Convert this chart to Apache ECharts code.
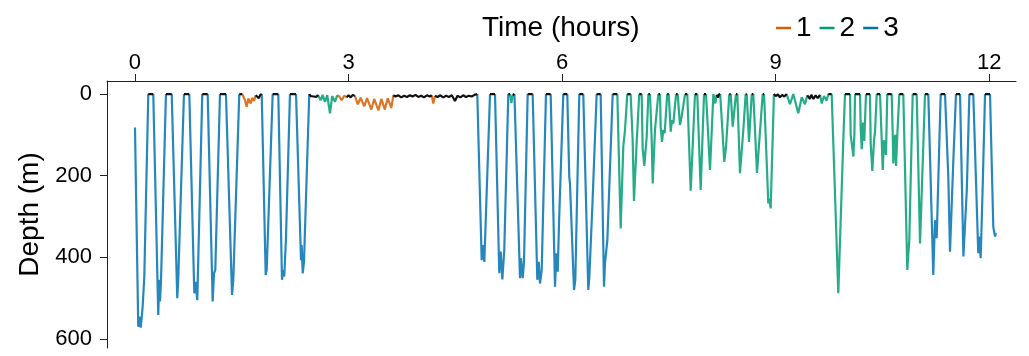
<!DOCTYPE html>
<html>
<head>
<meta charset="utf-8">
<script src="https://cdn.jsdelivr.net/npm/echarts@6.0.0/dist/echarts.min.js"></script>
<style>
  html, body { margin: 0; padding: 0; background: #fff; }
  #chart { width: 1029px; height: 356px; }
</style>
</head>
<body>
<div id="chart"></div>
<script>
// dive track: time (hours), depth (m), behavioural state (0 = unassigned / surface)
const hours = [
  0.000, 0.046, 0.063, 0.080, 0.094, 0.108, 0.131, 0.187, 0.257,
  0.327, 0.341, 0.351, 0.365, 0.435, 0.516,
  0.594, 0.608, 0.632, 0.688, 0.763,
  0.833, 0.852, 0.875, 0.945, 1.021,
  1.091, 1.110, 1.128, 1.194, 1.278,
  1.363, 1.381, 1.465, 1.507,
  1.545, 1.569, 1.592, 1.625, 1.648, 1.672, 1.695, 1.720, 1.740, 1.760, 1.780,
  1.836, 1.850, 1.934, 2.013,
  2.065, 2.083, 2.097, 2.121, 2.177, 2.262,
  2.332, 2.341, 2.356, 2.374, 2.448,
  2.470, 2.490, 2.510, 2.530, 2.550, 2.570,
  2.608, 2.635, 2.669, 2.700, 2.739, 2.770, 2.809, 2.840,
  2.870, 2.903, 2.940, 2.975,
  3.000, 3.030, 3.060, 3.090,
  3.130, 3.170, 3.220, 3.260, 3.320, 3.360, 3.420, 3.460, 3.510, 3.550, 3.600, 3.630,
  3.660, 3.700, 3.740, 3.780, 3.820, 3.860, 3.900, 3.940, 3.980, 4.020, 4.060, 4.100, 4.140, 4.168,
  4.190, 4.215,
  4.250, 4.290, 4.330, 4.370, 4.410, 4.450, 4.495, 4.530, 4.570, 4.610, 4.650, 4.690, 4.730, 4.770, 4.808,
  4.870, 4.884, 4.907, 4.987, 5.057,
  5.117, 5.137, 5.160, 5.187, 5.244, 5.267, 5.287, 5.305, 5.330,
  5.408, 5.422, 5.446, 5.464, 5.516, 5.586,
  5.651, 5.671, 5.689, 5.713, 5.773, 5.839,
  5.900, 5.918, 5.938, 5.956, 6.016, 6.072,
  6.100, 6.110, 6.167, 6.185, 6.241, 6.297,
  6.367, 6.381, 6.424, 6.485, 6.541,
  6.588, 6.602, 6.635, 6.710, 6.775,
  6.822, 6.859, 6.883, 6.915, 6.962,
  6.990, 7.009, 7.045, 7.083, 7.117,
  7.131, 7.154, 7.188, 7.211, 7.234,
  7.258, 7.272, 7.304, 7.351, 7.375,
  7.384, 7.403, 7.421, 7.440, 7.476, 7.497,
  7.525, 7.543, 7.562, 7.600, 7.623,
  7.655, 7.679, 7.726, 7.758,
  7.806, 7.866, 7.898,
  7.946, 7.993, 8.021,
  8.077, 8.124, 8.152, 8.170, 8.190, 8.205, 8.220,
  8.278, 8.302, 8.348, 8.368,
  8.396, 8.442, 8.461,
  8.498, 8.545, 8.578, 8.593,
  8.625, 8.663, 8.685,
  8.737, 8.817, 8.836,
  8.896, 8.910, 8.929, 8.975,
  9.000, 9.030, 9.060, 9.090, 9.120, 9.154,
  9.200, 9.247, 9.317, 9.365, 9.411, 9.444,
  9.480, 9.500, 9.530, 9.560, 9.590, 9.622,
  9.646, 9.678, 9.716, 9.739, 9.786,
  9.879, 9.949, 9.973, 10.044,
  10.053, 10.091, 10.105, 10.114, 10.184,
  10.194, 10.208, 10.226, 10.244, 10.268, 10.324,
  10.334, 10.357, 10.381, 10.395, 10.419, 10.465,
  10.489, 10.503, 10.521, 10.549, 10.567, 10.629,
  10.643, 10.652, 10.676, 10.690, 10.708, 10.736, 10.792,
  10.848, 10.876, 10.924, 10.980,
  11.027, 11.097, 11.143,
  11.213, 11.237, 11.261, 11.317, 11.378,
  11.424, 11.448, 11.494, 11.532, 11.589,
  11.636, 11.684, 11.720, 11.775,
  11.845, 11.859, 11.879, 11.907, 11.940, 12.010,
  12.056, 12.080, 12.094
]
const depths = [
  82, 570, 545, 572, 548, 520, 447, 0, 0,
  541, 455, 508, 460, 0, 0,
  500, 451, 447, 0, 0,
  488, 460, 505, 0, 0,
  508, 439, 431, 0, 0,
  492, 455, 0, 0,
  15, 31, 11, 23, 9, 17, 3, 6, 10, 2, 0,
  443, 431, 0, 0,
  455, 431, 447, 353, 0, 0,
  407, 370, 439, 411, 0,
  5, 1, 6, 2, 7, 2,
  15, 2, 19, 3, 47, 5, 19, 3,
  6, 15, 4, 8,
  3, 8, 2, 5,
  25, 9, 30, 10, 38, 12, 40, 12, 38, 10, 34, 3,
  6, 3, 8, 4, 7, 3, 6, 2, 7, 4, 8, 3, 6, 3,
  23, 4,
  7, 3, 8, 4, 7, 3, 17, 4, 8, 3, 7, 4, 6, 2, 0,
  407, 370, 411, 0, 0,
  439, 386, 454, 382, 0, 0, 22, 2, 0,
  451, 402, 451, 411, 0, 0,
  455, 411, 464, 431, 0, 0,
  472, 390, 435, 317, 0, 0,
  202, 219, 480, 455, 0, 0,
  480, 451, 276, 0, 0,
  472, 414, 358, 0, 0,
  329, 129, 88, 0, 0,
  110, 262, 125, 0, 0,
  133, 176, 104, 0, 0,
  113, 219, 88, 0, 0,
  80, 117, 88, 96, 0, 0,
  92, 64, 72, 0, 0,
  76, 55, 0, 0,
  237, 0, 0,
  235, 0, 0,
  186, 0, 23, 2, 8, 1, 0,
  166, 129, 0, 0,
  80, 0, 0,
  194, 88, 0, 0,
  117, 0, 0,
  193, 0, 0,
  268, 256, 280, 0,
  5, 1, 8, 2, 6, 0,
  25, 0, 47, 8, 25, 3,
  12, 2, 12, 3, 10, 2,
  23, 5, 16, 0, 0,
  488, 113, 0, 0,
  100, 153, 100, 0, 0,
  84, 135, 70, 115, 0, 0,
  121, 188, 113, 92, 0, 0,
  113, 186, 113, 149, 0, 0,
  96, 170, 100, 176, 100, 0, 0,
  431, 358, 0, 0,
  366, 0, 0,
  443, 309, 353, 0, 0,
  202, 386, 166, 0, 0,
  398, 235, 0, 0,
  390, 349, 402, 227, 0, 0,
  325, 349, 341
]
const states = [
  3, 3, 3, 3, 3, 3, 3, 3, 0,
  3, 3, 3, 3, 3, 0,
  3, 3, 3, 3, 0,
  3, 3, 3, 3, 0,
  3, 3, 3, 3, 0,
  3, 3, 3, 0,
  1, 1, 1, 1, 1, 1, 1, 0, 0, 0, 0,
  3, 3, 3, 0,
  3, 3, 3, 3, 3, 0,
  3, 3, 3, 3, 3,
  0, 0, 0, 0, 0, 0,
  2, 2, 2, 2, 2, 2, 2, 2,
  1, 1, 1, 1,
  0, 0, 0, 0,
  1, 1, 1, 1, 1, 1, 1, 1, 1, 1, 1, 1,
  0, 0, 0, 0, 0, 0, 0, 0, 0, 0, 0, 0, 0, 0,
  1, 1,
  0, 0, 0, 0, 0, 0, 0, 0, 0, 0, 0, 0, 0, 0, 0,
  3, 3, 3, 3, 0,
  3, 3, 3, 3, 3, 0, 2, 2, 0,
  3, 3, 3, 3, 3, 0,
  3, 3, 3, 3, 3, 0,
  3, 3, 3, 3, 3, 0,
  3, 3, 3, 3, 3, 0,
  3, 3, 3, 3, 0,
  3, 3, 3, 3, 0,
  2, 2, 2, 2, 0,
  2, 2, 2, 2, 0,
  2, 2, 2, 2, 0,
  2, 2, 2, 2, 0,
  2, 2, 2, 2, 2, 0,
  2, 2, 2, 2, 0,
  2, 2, 2, 0,
  2, 2, 0,
  2, 2, 0,
  2, 2, 2, 2, 0, 0, 0,
  2, 2, 2, 0,
  2, 2, 0,
  2, 2, 2, 0,
  2, 2, 0,
  2, 2, 0,
  2, 2, 2, 2,
  0, 0, 0, 0, 0, 0,
  2, 2, 2, 2, 2, 2,
  0, 0, 0, 0, 0, 0,
  2, 2, 2, 2, 0,
  2, 2, 2, 0,
  2, 2, 2, 2, 0,
  2, 2, 2, 2, 2, 0,
  2, 2, 2, 2, 2, 0,
  2, 2, 2, 2, 2, 0,
  2, 2, 2, 2, 2, 2, 0,
  2, 2, 2, 0,
  2, 2, 0,
  3, 3, 3, 3, 0,
  3, 3, 3, 3, 0,
  3, 3, 3, 0,
  3, 3, 3, 3, 3, 0,
  3, 3, 3
]
const stateNames = ['none', '1', '2', '3']
const stateColors = ['#111111', '#D55E00', '#009E73', '#0072B2']
const hourTicks = [0, 3, 6, 9, 12]
const depthTicks = [0, 200, 400, 600]

// split the track into one line per state; each segment takes the state of its end point
function splitByState() {
  const parts = [[], [], [], []]
  const last = [-2, -2, -2, -2]
  for (let i = 1; i < hours.length; i++) {
    const s = states[i]
    const arr = parts[s]
    if (last[s] !== i - 1) {
      if (arr.length) arr.push([hours[i - 1], '-'])
      arr.push([hours[i - 1], depths[i - 1]])
    }
    arr.push([hours[i], depths[i]])
    last[s] = i
  }
  return parts
}

const parts = splitByState()
const chart = echarts.init(document.getElementById('chart'))

const axisColor = '#222'
const font = 'Liberation Sans, Arial, sans-serif'

const option = {
  animation: false,
  textStyle: { fontFamily: font },
  title: {
    text: 'Time (hours)',
    left: 477,
    top: 9,
    textStyle: { fontSize: 28, fontWeight: 'normal', color: '#000', fontFamily: font }
  },
  legend: {
    data: ['1', '2', '3'],
    left: 771,
    top: 9,
    icon: 'rect',
    itemWidth: 15,
    itemHeight: 2.5,
    itemGap: 8,
    textStyle: { fontSize: 28, color: '#000', fontFamily: font }
  },
  grid: { left: 107, right: 13, top: 81, bottom: 8 },
  xAxis: {
    type: 'value',
    position: 'top',
    min: -0.393,
    max: 12.375,
    axisLine: { show: true, onZero: false, lineStyle: { color: axisColor, width: 1 } },
    axisTick: { show: true, customValues: hourTicks, length: 7, lineStyle: { color: axisColor } },
    axisLabel: { customValues: hourTicks, fontSize: 22, color: '#000', margin: 7 },
    splitLine: { show: false }
  },
  yAxis: {
    type: 'value',
    inverse: true,
    min: -32,
    max: 622,
    name: 'Depth (m)',
    nameLocation: 'middle',
    nameRotate: 90,
    nameGap: 62,
    nameTextStyle: { fontSize: 28, color: '#000' },
    axisLine: { show: true, onZero: false, lineStyle: { color: axisColor, width: 1 } },
    axisTick: { show: true, customValues: depthTicks, length: 7, lineStyle: { color: axisColor } },
    axisLabel: { customValues: depthTicks, fontSize: 22, color: '#000', margin: 15 },
    splitLine: { show: false }
  },
  // blue first, black surface segments last (on top)
  series: [3, 2, 1, 0].map(s => ({
    name: stateNames[s],
    type: 'line',
    data: parts[s],
    showSymbol: false,
    connectNulls: false,
    color: stateColors[s],
    itemStyle: { color: stateColors[s] },
    lineStyle: { color: stateColors[s], width: 2.2, opacity: s === 0 ? 1 : 0.85 },
    emphasis: { disabled: true }
  }))
}

chart.setOption(option)
</script>
</body>
</html>
